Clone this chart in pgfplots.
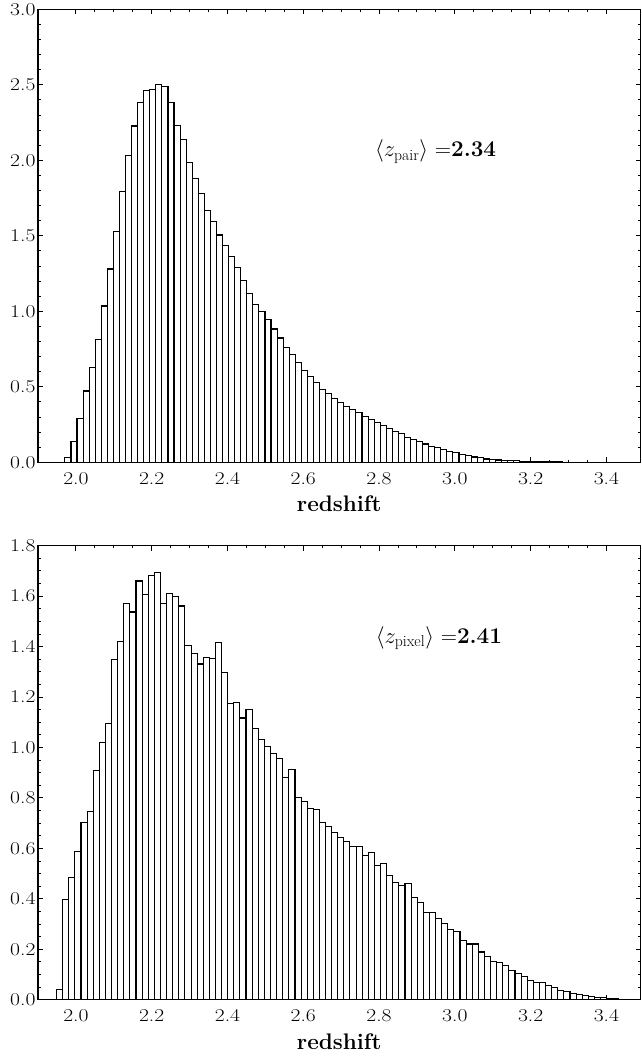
\RequirePackage{fix-cm}
\documentclass[border=0pt]{standalone}
\usepackage{fontspec}
\usepackage{graphicx}
\usepackage{pgfplots}
\pgfplotsset{compat=1.18}
\usepackage{pgfplotstable}

\pgfplotstableread{
x y
1.971 0.033
1.987 0.135
2.003 0.291
2.019 0.472
2.035 0.625
2.051 0.815
2.067 1.035
2.083 1.280
2.099 1.530
2.115 1.792
2.131 2.029
2.147 2.227
2.163 2.382
2.179 2.464
2.195 2.470
2.211 2.501
2.227 2.490
2.243 2.382
2.259 2.232
2.275 2.139
2.291 1.987
2.307 1.881
2.323 1.781
2.339 1.669
2.355 1.596
2.371 1.505
2.387 1.435
2.403 1.362
2.419 1.291
2.435 1.203
2.451 1.119
2.467 1.046
2.483 1.000
2.499 0.943
2.515 0.883
2.531 0.823
2.547 0.762
2.563 0.711
2.579 0.660
2.595 0.605
2.611 0.567
2.627 0.527
2.643 0.483
2.659 0.455
2.675 0.422
2.691 0.395
2.707 0.371
2.723 0.351
2.739 0.327
2.755 0.302
2.771 0.285
2.787 0.265
2.803 0.243
2.819 0.221
2.835 0.203
2.851 0.188
2.867 0.166
2.883 0.152
2.899 0.135
2.915 0.121
2.931 0.106
2.947 0.097
2.963 0.084
2.979 0.073
2.995 0.064
3.011 0.051
3.027 0.042
3.043 0.035
3.059 0.029
3.075 0.022
3.091 0.018
3.107 0.015
3.123 0.013
3.139 0.011
3.155 0.009
3.171 0.007
3.187 0.005
3.203 0.004
3.219 0.003
3.235 0.003
3.251 0.002
3.267 0.002
3.283 0.001
3.299 0
}\toptable

\pgfplotstableread{
x y
1.9490 0.041
1.9651 0.398
1.9813 0.485
1.9974 0.589
2.0135 0.702
2.0297 0.745
2.0458 0.907
2.0619 1.019
2.0780 1.096
2.0942 1.349
2.1103 1.421
2.1264 1.570
2.1426 1.537
2.1587 1.660
2.1748 1.607
2.1910 1.682
2.2071 1.693
2.2232 1.570
2.2393 1.611
2.2555 1.599
2.2716 1.561
2.2877 1.405
2.3039 1.374
2.3200 1.331
2.3361 1.357
2.3523 1.353
2.3684 1.416
2.3845 1.297
2.4006 1.176
2.4168 1.179
2.4329 1.117
2.4490 1.152
2.4652 1.074
2.4813 1.031
2.4974 1.003
2.5136 0.975
2.5297 0.958
2.5458 0.882
2.5619 0.913
2.5781 0.801
2.5942 0.786
2.6103 0.758
2.6265 0.755
2.6426 0.704
2.6587 0.688
2.6749 0.662
2.6910 0.644
2.7071 0.629
2.7232 0.609
2.7394 0.609
2.7555 0.570
2.7716 0.584
2.7878 0.531
2.8039 0.541
2.8200 0.493
2.8362 0.465
2.8523 0.452
2.8684 0.460
2.8845 0.406
2.9007 0.386
2.9168 0.346
2.9329 0.346
2.9491 0.321
2.9652 0.301
2.9813 0.279
2.9975 0.271
3.0136 0.235
3.0297 0.221
3.0458 0.221
3.0620 0.189
3.0781 0.171
3.0942 0.151
3.1104 0.147
3.1265 0.135
3.1426 0.115
3.1588 0.103
3.1749 0.091
3.1910 0.075
3.2071 0.069
3.2233 0.069
3.2394 0.055
3.2555 0.050
3.2717 0.038
3.2878 0.033
3.3039 0.024
3.3201 0.020
3.3362 0.016
3.3523 0.012
3.3684 0.009
3.3846 0.009
3.4007 0.005
3.4168 0.003
3.4330 0
}\bottomtable

\pgfplotsset{
  myaxis/.style={
    scale only axis,
    width=602.5pt,
    xmin=1.9, xmax=3.49, ymin=0,
    xtick={2.0,2.2,2.4,2.6,2.8,3.0,3.2,3.4},
    minor x tick num=3,
    tick align=inside,
    major tick length=5pt,
    minor tick length=2.5pt,
    tick style={black, line width=0.9pt},
    axis line style={line width=1.2pt},
    /pgf/number format/assume math mode=true,
    xticklabel={\fontsize{18}{21}\selectfont\scalebox{1.2}[1]{\pgfmathprintnumber[fixed,fixed zerofill,precision=1]{\tick}}},
    yticklabel={\fontsize{18}{21}\selectfont\scalebox{1.2}[1]{\pgfmathprintnumber[fixed,fixed zerofill,precision=1]{\tick}}},
    xticklabel style={anchor=base, yshift=-22pt},
    yticklabel style={xshift=1pt},
    xlabel={redshift},
    xlabel style={font=\fontsize{22.5}{27}\selectfont\bfseries,
      at={(axis description cs:0.5,0)}, anchor=base, yshift=-49.5pt},
  }
}

\begin{document}
\begin{tikzpicture}
\begin{axis}[myaxis,
  at={(0pt,537.4pt)}, anchor=south west,
  height=453pt,
  ymax=3.0,
  ytick={0,0.5,1,1.5,2,2.5,3},
  minor y tick num=4,
]
\addplot[ybar interval, draw=black, fill=white, line width=1.1pt] table[x=x,y=y] {\toptable};
\node[anchor=base west, font=\fontsize{22.5}{27}\selectfont, inner sep=0pt] at (axis cs:2.789,2.024) {$\langle z_{\mathrm{pair}}\rangle$ =\textbf{2.34}};
\end{axis}

\begin{axis}[myaxis,
  at={(0pt,0pt)}, anchor=south west,
  height=454pt,
  ymax=1.8,
  ytick={0,0.2,0.4,0.6,0.8,1.0,1.2,1.4,1.6,1.8},
  minor y tick num=3,
]
\addplot[ybar interval, draw=black, fill=white, line width=1.1pt] table[x=x,y=y] {\bottomtable};
\node[anchor=base west, font=\fontsize{22.5}{27}\selectfont, inner sep=0pt] at (axis cs:2.791,1.413) {$\langle z_{\mathrm{pixel}}\rangle$ =\textbf{2.41}};
\end{axis}
\pgfresetboundingbox
\path[use as bounding box] (-38pt,-59.3pt) rectangle (603pt,999.7pt);
\end{tikzpicture}
\end{document}
